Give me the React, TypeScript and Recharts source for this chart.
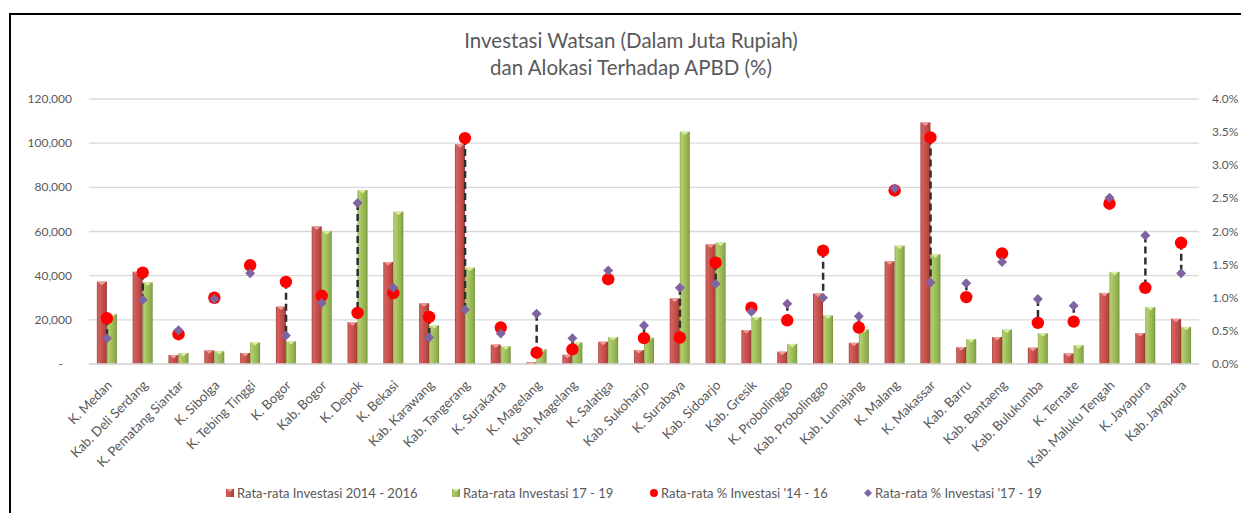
import React from "react";
import { ComposedChart, Bar, Line, XAxis, YAxis, CartesianGrid } from "recharts";

const categories = [
  "K. Medan", "Kab. Deli Serdang", "K. Pematang Siantar", "K. Sibolga", "K. Tebing Tinggi",
  "K. Bogor", "Kab. Bogor", "K. Depok", "K. Bekasi", "Kab. Karawang", "Kab. Tangerang",
  "K. Surakarta", "K. Magelang", "Kab. Magelang", "K. Salatiga", "Kab. Sukoharjo", "K. Surabaya",
  "Kab. Sidoarjo", "Kab. Gresik", "K. Probolinggo", "Kab. Probolinggo", "Kab. Lumajang",
  "K. Malang", "K. Makassar", "Kab. Barru", "Kab. Bantaeng", "Kab. Bulukumba", "K. Ternate",
  "Kab. Maluku Tengah", "K. Jayapura", "Kab. Jayapura",
];

const invest1416 = [
  37300, 41800, 4100, 6200, 5000, 26000, 62300, 18900, 46200, 27500, 99500,
  8800, 800, 4200, 10100, 6300, 29700, 54200, 15400, 5600, 31900, 9600,
  46500, 109400, 7700, 12200, 7400, 4800, 32200, 14000, 20500,
];

const invest1719 = [
  22600, 37000, 5000, 5800, 9800, 10300, 60100, 78800, 69000, 17500, 43600,
  8000, 6600, 9800, 12200, 11900, 105200, 55000, 21300, 9100, 22000, 15700,
  53600, 49700, 11300, 15600, 13900, 8500, 41700, 25800, 16800,
];

const pct1416 = [
  0.69, 1.38, 0.45, 1.0, 1.49, 1.24, 1.03, 0.77, 1.07, 0.71, 3.41,
  0.55, 0.17, 0.22, 1.28, 0.39, 0.4, 1.53, 0.85, 0.66, 1.71, 0.55,
  2.62, 3.42, 1.01, 1.67, 0.62, 0.64, 2.42, 1.15, 1.83,
];

const pct1719 = [
  0.39, 0.97, 0.51, 0.98, 1.37, 0.43, 0.92, 2.43, 1.15, 0.4, 0.82,
  0.46, 0.76, 0.39, 1.41, 0.58, 1.15, 1.21, 0.79, 0.91, 1.0, 0.72,
  2.65, 1.23, 1.22, 1.54, 0.98, 0.88, 2.51, 1.94, 1.37,
];

const leftTicks = [0, 20000, 40000, 60000, 80000, 100000, 120000];
const rightTicks = [0, 0.5, 1, 1.5, 2, 2.5, 3, 3.5, 4];

const titleLines = ["Investasi Watsan (Dalam Juta Rupiah)", "dan Alokasi Terhadap APBD (%)"];
const legendLabels = [
  "Rata-rata Investasi 2014 - 2016",
  "Rata-rata Investasi 17 - 19",
  "Rata-rata % Investasi '14 - 16",
  "Rata-rata % Investasi '17 - 19",
];

const data = categories.map((name, i) => ({
  name,
  inv1: invest1416[i],
  inv2: invest1719[i],
  p1: pct1416[i],
  p2: pct1719[i],
  hl: [Math.min(pct1416[i], pct1719[i]), Math.max(pct1416[i], pct1719[i])],
}));

const FONT = "Lato, 'Open Sans', sans-serif";
const GRAY = "#595959";
const RED = "#C0504D";
const GREEN = "#9BBB59";
const PURPLE = "#8064A2";
const DOT_RED = "#FF0000";

const makeBar = (gradId: string, cap: string) => (props: any) => {
  const { x, y, width, height } = props;
  if (!height || height <= 0) return <g />;
  const th = Math.min(3.5, height);
  return (
    <g>
      <rect x={x} y={y} width={width} height={height} fill={`url(#${gradId})`} />
      <polygon
        points={`${x + 1},${y} ${x + width - 1},${y} ${x + width / 2},${y + th}`}
        fill={cap}
      />
    </g>
  );
};

const RedBar = makeBar("gradRed", "#ee9e9a");
const GreenBar = makeBar("gradGreen", "#d9eca2");

const HighLow = (props: any) => {
  const { x, y, width, height } = props;
  if (height == null || isNaN(y)) return <g />;
  const cx = x + width / 2;
  return (
    <line
      x1={cx}
      x2={cx}
      y1={y}
      y2={y + Math.max(0, height)}
      stroke="#2e2e2e"
      strokeWidth={2.5}
      strokeDasharray="7 4"
    />
  );
};

const RedDot = (props: any) => {
  const { cx, cy, index } = props;
  if (cx == null || cy == null) return <g key={`rd${index}`} />;
  return <circle key={`rd${index}`} cx={cx} cy={cy} r={6.2} fill={DOT_RED} />;
};

const Diamond = (props: any) => {
  const { cx, cy, index } = props;
  if (cx == null || cy == null) return <g key={`dm${index}`} />;
  const s = 5;
  return (
    <polygon
      key={`dm${index}`}
      points={`${cx},${cy - s} ${cx + s},${cy} ${cx},${cy + s} ${cx - s},${cy}`}
      fill={PURPLE}
    />
  );
};

const LeftTick = (props: any) => {
  const { x, y, payload } = props;
  const v = payload.value;
  const label = v === 0 ? "-" : v.toLocaleString("en-US");
  return (
    <text
      x={v === 0 ? x - 9 : x}
      y={y}
      dy={4}
      textAnchor="end"
      fill={GRAY}
      fontSize={12}
      fontFamily={FONT}
    >
      {label}
    </text>
  );
};

const RightTick = (props: any) => {
  const { x, y, payload } = props;
  return (
    <text x={x} y={y} dy={4} textAnchor="start" fill={GRAY} fontSize={12} fontFamily={FONT}>
      {payload.value.toFixed(1) + "%"}
    </text>
  );
};

const XTick = (props: any) => {
  const { x, y, payload } = props;
  return (
    <g transform={`translate(${x + 6},${y + 14})`}>
      <text
        x={0}
        y={0}
        transform="rotate(-45)"
        textAnchor="end"
        fill={GRAY}
        fontSize={13.2}
        fontFamily={FONT}
      >
        {payload.value}
      </text>
    </g>
  );
};

const LegendMarker = ({ kind }: { kind: number }) => {
  if (kind === 0 || kind === 1) {
    return (
      <svg width={8} height={8} style={{ display: "block" }}>
        <rect x={0} y={0} width={8} height={8} fill={`url(#${kind === 0 ? "gradRed" : "gradGreen"})`} />
        <polygon points="1,0 7,0 4,3" fill={kind === 0 ? "#ee9e9a" : "#d9eca2"} />
      </svg>
    );
  }
  if (kind === 2) {
    return (
      <svg width={8} height={8} style={{ display: "block" }}>
        <circle cx={4} cy={4} r={4} fill={DOT_RED} />
      </svg>
    );
  }
  return (
    <svg width={8} height={8} style={{ display: "block" }}>
      <polygon points="4,0 8,4 4,8 0,4" fill={PURPLE} />
    </svg>
  );
};

const legendLeft = [226, 452, 650, 864];

export default function App() {
  return (
    <div
      style={{
        position: "absolute",
        left: 0,
        top: 0,
        width: 1241,
        height: 513,
        overflow: "hidden",
        background: "#fff",
        fontFamily: FONT,
      }}
    >
      <svg width={0} height={0} style={{ position: "absolute" }}>
        <defs>
          <linearGradient id="gradRed" x1="0" y1="0" x2="1" y2="0">
            <stop offset="0%" stopColor="#a43f3c" />
            <stop offset="14%" stopColor="#d4625e" />
            <stop offset="45%" stopColor="#ca544f" />
            <stop offset="85%" stopColor="#b4453f" />
            <stop offset="100%" stopColor="#8e3431" />
          </linearGradient>
          <linearGradient id="gradGreen" x1="0" y1="0" x2="1" y2="0">
            <stop offset="0%" stopColor="#86a44a" />
            <stop offset="14%" stopColor="#b3cf6e" />
            <stop offset="45%" stopColor="#a1c05d" />
            <stop offset="85%" stopColor="#8cab4c" />
            <stop offset="100%" stopColor="#718c3b" />
          </linearGradient>
        </defs>
      </svg>
      <div
        style={{
          position: "absolute",
          left: 9,
          top: 13,
          width: 1300,
          height: 600,
          border: "2px solid #000",
          boxSizing: "border-box",
        }}
      />
      <div
        style={{
          position: "absolute",
          left: 0,
          width: 1262,
          top: 27,
          textAlign: "center",
          color: GRAY,
          fontSize: 20.5,
          lineHeight: "27px",
          fontFamily: FONT,
        }}
      >
        {titleLines.map((t) => (
          <div key={t}>{t}</div>
        ))}
      </div>
      <div style={{ position: "absolute", left: 0, top: 0 }}>
        <ComposedChart
          width={1241}
          height={513}
          data={data}
          margin={{ top: 99, right: 0, bottom: 0, left: 0 }}
          barCategoryGap="22%"
          barGap={0}
        >
          <CartesianGrid yAxisId="left" horizontal vertical={false} stroke="#d9d9d9" strokeWidth={1.3} />
          <XAxis
            dataKey="name"
            xAxisId="main"
            height={149}
            interval={0}
            tick={<XTick />}
            tickLine={false}
            axisLine={{ stroke: "#d9d9d9", strokeWidth: 1.3 }}
          />
          <XAxis dataKey="name" xAxisId="hl" hide height={0} />
          <YAxis
            yAxisId="left"
            orientation="left"
            width={89}
            domain={[0, 120000]}
            ticks={leftTicks}
            tick={<LeftTick />}
            tickLine={false}
            axisLine={false}
            tickSize={0}
            tickMargin={17}
          />
          <YAxis
            yAxisId="right"
            orientation="right"
            width={42}
            domain={[0, 4]}
            ticks={rightTicks}
            tick={<RightTick />}
            tickLine={false}
            axisLine={false}
            tickSize={0}
            tickMargin={13}
          />
          <Bar
            xAxisId="main"
            yAxisId="left"
            dataKey="inv1"
            shape={RedBar}
            fill={RED}
            isAnimationActive={false}
          />
          <Bar
            xAxisId="main"
            yAxisId="left"
            dataKey="inv2"
            shape={GreenBar}
            fill={GREEN}
            isAnimationActive={false}
          />
          <Bar
            xAxisId="hl"
            yAxisId="right"
            dataKey="hl"
            barSize={2}
            shape={HighLow}
            isAnimationActive={false}
          />
          <Line
            xAxisId="main"
            yAxisId="right"
            dataKey="p1"
            stroke="none"
            dot={RedDot}
            activeDot={false}
            isAnimationActive={false}
          />
          <Line
            xAxisId="main"
            yAxisId="right"
            dataKey="p2"
            stroke="none"
            dot={Diamond}
            activeDot={false}
            isAnimationActive={false}
          />
        </ComposedChart>
      </div>
      {legendLabels.map((label, i) => (
        <div
          key={label}
          style={{
            position: "absolute",
            left: legendLeft[i],
            top: 485,
            display: "flex",
            alignItems: "center",
            gap: 3,
            color: GRAY,
            fontSize: 13,
            lineHeight: "16px",
            whiteSpace: "nowrap",
          }}
        >
          <LegendMarker kind={i} />
          <span>{label}</span>
        </div>
      ))}
    </div>
  );
}
